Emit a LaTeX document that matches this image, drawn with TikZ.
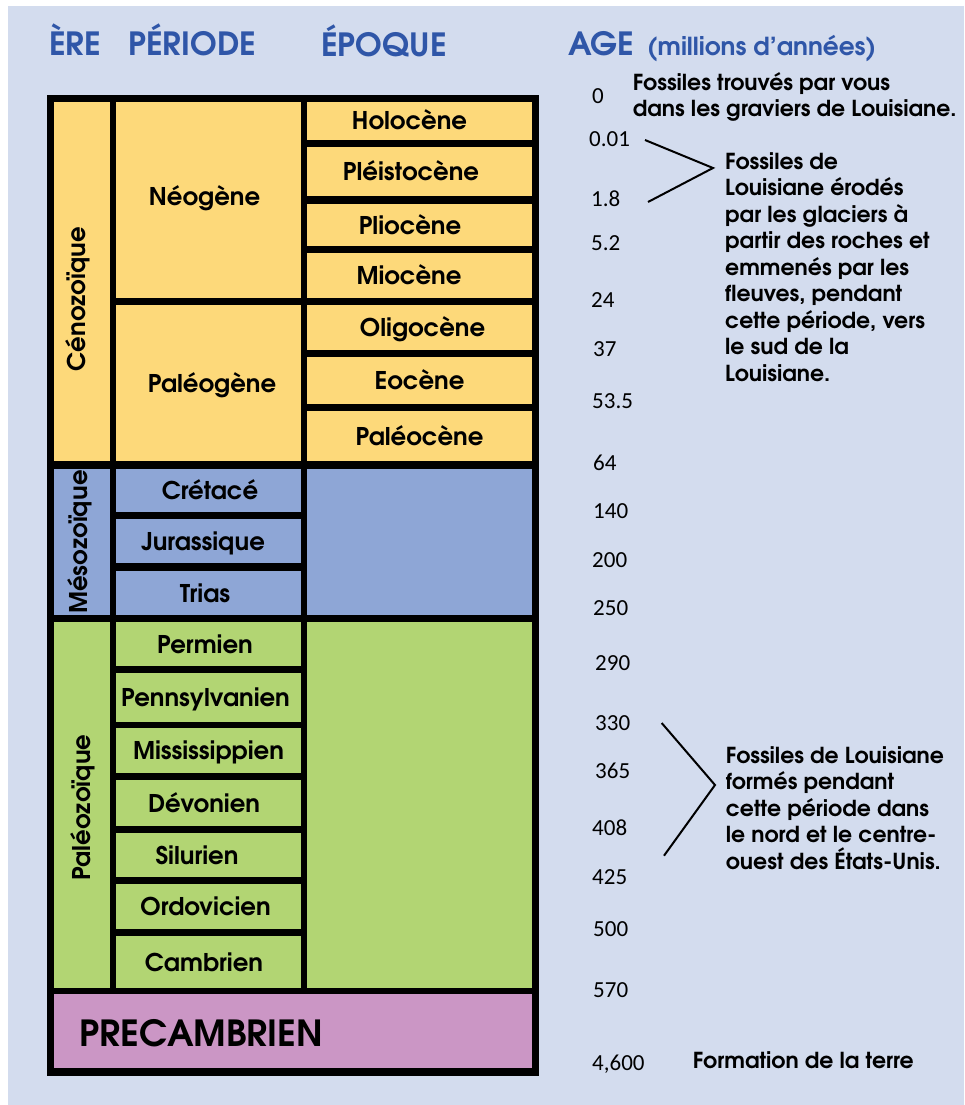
\documentclass[tikz,border=0pt]{standalone}
\usepackage{fontspec}
\setmainfont{TeX Gyre Adventor}
\newfontfamily\numfont{Carlito}
\definecolor{bgblue}{HTML}{D3DCEE}
\definecolor{yel}{HTML}{FDD97A}
\definecolor{blu}{HTML}{8EA6D6}
\definecolor{grn}{HTML}{B2D573}
\definecolor{pnk}{HTML}{CB96C5}
\definecolor{headblue}{HTML}{2F56A8}
\newcommand{\mkcell}[6]{\node[cellbox,fill=#6,minimum width={(#4-#2)*1pt},minimum height={(#5-#3)*1pt}] (#1) at ({(#2+#4)/2},{(#3+#5)/2}) {};}
\tikzset{
  cellbox/.style={rectangle,draw=none,inner sep=0pt,outer sep=0pt},
  lbl/.style={inner sep=0pt,font=\fontsize{24.4}{24.4}\selectfont\bfseries,text height=18pt,text depth=0pt},
  eralbl/.style={lbl,rotate=90},
  bigl/.style={inner sep=0pt,font=\fontsize{36}{36}\selectfont\bfseries,text height=26.5pt,text depth=0pt},
  head/.style={inner sep=0pt,anchor=base west,text=headblue,font=\fontsize{32}{32}\selectfont\bfseries},
  subhead/.style={inner sep=0pt,anchor=base west,text=headblue,font=\fontsize{24.8}{24.8}\selectfont\bfseries},
  num/.style={inner sep=0pt,anchor=west,font=\numfont\fontsize{23}{23}\selectfont,text height=14.5pt,text depth=0pt},
  note/.style={inner sep=0pt,anchor=base west,align=left,font=\fontsize{22}{26.5}\selectfont\bfseries},
  bracket/.style={line width=2pt,line join=miter}
}
\begin{document}
\begin{tikzpicture}[x=1pt,y=-1pt]
\useasboundingbox (0,0) rectangle (964,1105);
\fill[white] (0,0) rectangle (964,1105);
\fill[bgblue] (8,6) rectangle (964,1105);
% headings
\node[head] (hera) at (49,56) {ÈRE};
\node[head] (hper) at (128,56) {PÉRIODE};
\node[head] (hepo) at (321,57) {ÉPOQUE};
\node[head] (hage) at (568,56) {AGE};
\node[subhead] (hmil) at (647,56) {(millions d’années)};
% frame
\node[cellbox,fill=black,minimum width=492pt,minimum height=981pt] (frame) at (293,585.5) {};
% eras
\mkcell{cen}{54}{102}{110}{461}{yel}
\mkcell{meso}{54}{469}{110}{615}{blu}
\mkcell{paleo}{54}{622}{110}{988}{grn}
% periods
\mkcell{neog}{116}{102}{301}{298}{yel}
\mkcell{paleog}{116}{305}{301}{461}{yel}
\mkcell{cret}{116}{469}{301}{512}{blu}
\mkcell{jura}{116}{519}{301}{563}{blu}
\mkcell{trias}{116}{571}{301}{615}{blu}
\mkcell{perm}{116}{622}{301}{666}{grn}
\mkcell{penn}{116}{673}{301}{722}{grn}
\mkcell{miss}{116}{728}{301}{773}{grn}
\mkcell{devo}{116}{780}{301}{826}{grn}
\mkcell{silu}{116}{833}{301}{877}{grn}
\mkcell{ordo}{116}{884}{301}{929}{grn}
\mkcell{camb}{116}{936}{301}{988}{grn}
% epochs
\mkcell{holo}{307}{102}{532}{140}{yel}
\mkcell{pleis}{307}{147}{532}{196}{yel}
\mkcell{plio}{307}{204}{532}{246}{yel}
\mkcell{mio}{307}{253}{532}{298}{yel}
\mkcell{oligo}{307}{305}{532}{350}{yel}
\mkcell{eoc}{307}{357}{532}{404}{yel}
\mkcell{paleoc}{307}{411}{532}{461}{yel}
\mkcell{mesoep}{307}{469}{532}{615}{blu}
\mkcell{paleoep}{307}{622}{532}{988}{grn}
\mkcell{precamb}{54}{994}{532}{1068}{pnk}
% labels
\node[eralbl] (cen-t) at ([shift={(-6,17.5)}]cen.center) {Cénozoïque};
\node[eralbl] (meso-t) at ([shift={(-4,0)}]meso.center) {Mésozoïque};
\node[eralbl] (paleo-t) at ([shift={(-1,2.5)}]paleo.center) {Paléozoïque};
\node[lbl] (neog-t) at ([shift={(-4,-4)}]neog.center) {Néogène};
\node[lbl] (paleog-t) at ([shift={(3.5,0)}]paleog.center) {Paléogène};
\node[lbl] (cret-t) at ([shift={(1.5,0)}]cret.center) {Crétacé};
\node[lbl] (jura-t) at ([shift={(-5.5,0)}]jura.center) {Jurassique};
\node[lbl] (trias-t) at ([shift={(-3.5,0)}]trias.center) {Trias};
\node[lbl] (perm-t) at ([shift={(-3.5,0)}]perm.center) {Permien};
\node[lbl] (penn-t) at ([shift={(-3,0)}]penn.center) {Pennsylvanien};
\node[lbl] (miss-t) at ([shift={(0,0)}]miss.center) {Mississippien};
\node[lbl] (devo-t) at ([shift={(-4.5,0)}]devo.center) {Dévonien};
\node[lbl] (silu-t) at ([shift={(-11.5,0)}]silu.center) {Silurien};
\node[lbl] (ordo-t) at ([shift={(-3,0)}]ordo.center) {Ordovicien};
\node[lbl] (camb-t) at ([shift={(-4.5,0)}]camb.center) {Cambrien};
\node[lbl] (holo-t) at ([shift={(-10,0)}]holo.center) {Holocène};
\node[lbl] (pleis-t) at ([shift={(-8.5,0)}]pleis.center) {Pléistocène};
\node[lbl] (plio-t) at ([shift={(-9.5,0)}]plio.center) {Pliocène};
\node[lbl] (mio-t) at ([shift={(-10.5,0)}]mio.center) {Miocène};
\node[lbl] (oligo-t) at ([shift={(3,0)}]oligo.center) {Oligocène};
\node[lbl] (eoc-t) at ([shift={(0,0)}]eoc.center) {Eocène};
\node[lbl] (paleoc-t) at ([shift={(0,0)}]paleoc.center) {Paléocène};
\node[bigl] (precamb-t) at ([shift={(-91.5,2)}]precamb.center) {PRECAMBRIEN};
% ages
\node[num] (a0) at (592,96.5) {0};
\node[num] (a1) at (589,139.5) {0.01};
\node[num] (a2) at (591,199.5) {1.8};
\node[num] (a3) at (591,243) {5.2};
\node[num] (a4) at (591,300.5) {24};
\node[num] (a5) at (593,349) {37};
\node[num] (a6) at (592,401) {53.5};
\node[num] (a7) at (593,463) {64};
\node[num] (a8) at (593,511.5) {140};
\node[num] (a9) at (592,560) {200};
\node[num] (a10) at (593,608) {250};
\node[num] (a11) at (595,663) {290};
\node[num] (a12) at (595,723) {330};
\node[num] (a13) at (595,771.5) {365};
\node[num] (a14) at (592,828.5) {408};
\node[num] (a15) at (592,877) {425};
\node[num] (a16) at (593,929) {500};
\node[num] (a17) at (593,990) {570};
\node[num] (a18) at (592,1063.5) {4,600};
% notes
\node[note] (n1) at (632.7,116.7) {Fossiles trouvés par vous\\dans les graviers de Louisiane.};
\node[note] (n2) at (725,381) {Fossiles de\\Louisiane érodés\\par les glaciers à\\partir des roches et\\emmenés par les\\fleuves, pendant\\cette période, vers\\le sud de la\\Louisiane.};
\node[note] (n3) at (725.7,869.3) {Fossiles de Louisiane\\formés pendant\\cette période dans\\le nord et le centre-\\ouest des États-Unis.};
\node[note] (n4) at (692.7,1068.3) {Formation de la terre};
% brackets
\coordinate (b1a) at (645,140);
\coordinate (b1m) at (713,168);
\coordinate (b1b) at (648,202);
\draw[bracket] (b1a) -- (b1m) -- (b1b);
\coordinate (b2a) at (661.7,723);
\coordinate (b2m) at (715,785);
\coordinate (b2b) at (664,855.7);
\draw[bracket] (b2a) -- (b2m) -- (b2b);
\end{tikzpicture}
\end{document}
